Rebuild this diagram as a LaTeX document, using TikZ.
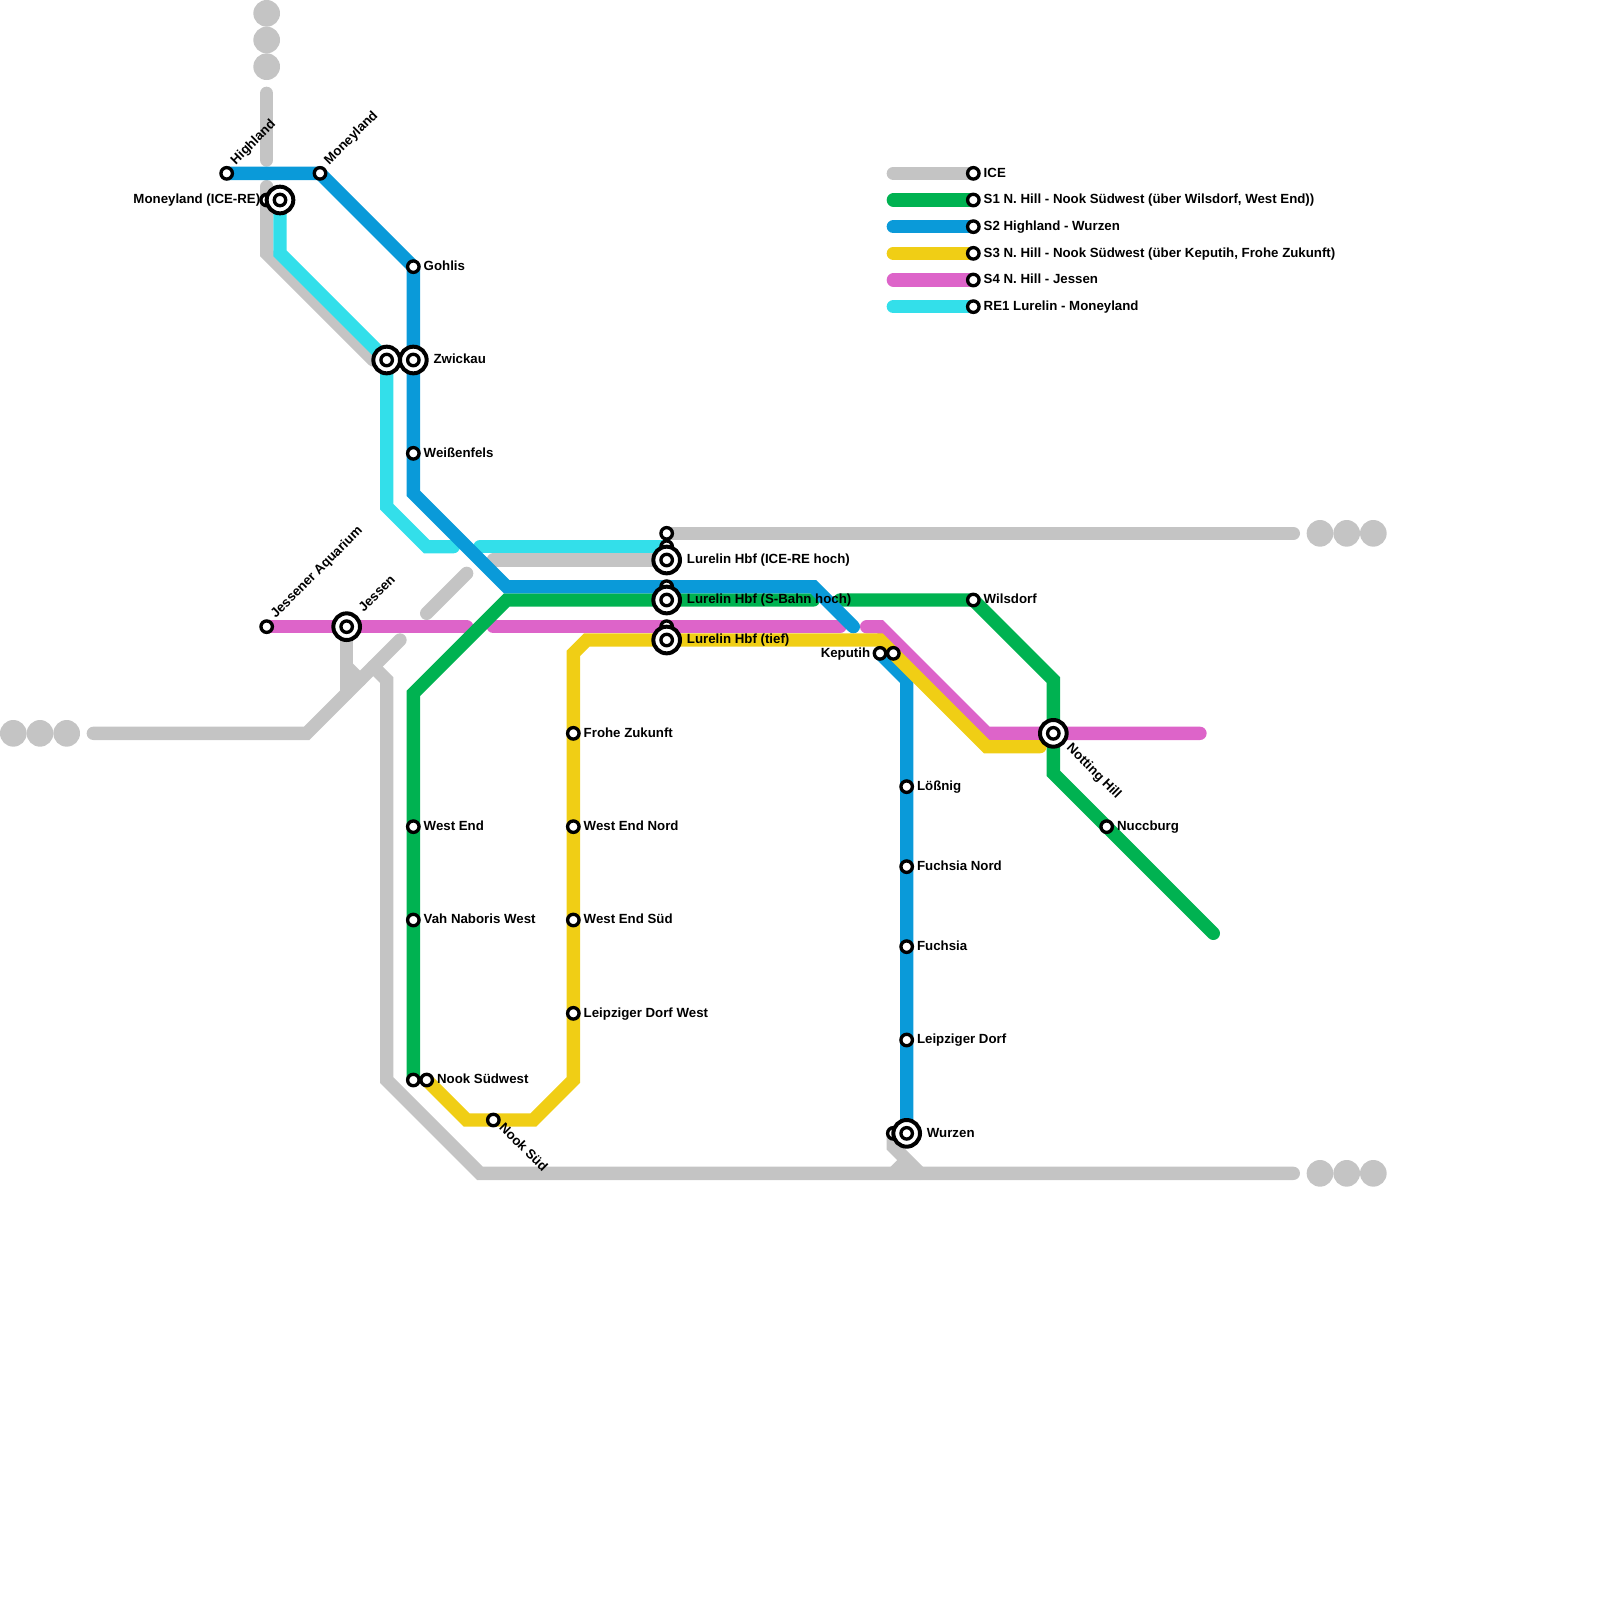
\documentclass[tikz,border=0pt]{standalone}
\usepackage{fontspec}
\setmainfont{Liberation Sans}[BoldFont={Liberation Sans Bold}]
\usetikzlibrary{backgrounds}
\definecolor{cgray}{HTML}{C4C4C4}
\definecolor{cgreen}{HTML}{00B251}
\definecolor{cblue}{HTML}{0A9AD9}
\definecolor{cyell}{HTML}{F0CE15}
\definecolor{cpurp}{HTML}{DD64C9}
\definecolor{ccyan}{HTML}{33DFEA}
\tikzset{
  small/.style={circle,draw=black,fill=white,line width=2.5pt,minimum size=8.6pt,inner sep=0pt},
  big/.style={circle,draw=black,fill=white,line width=3pt,minimum size=20pt,inner sep=0pt},
  endot/.style={circle,fill=cgray,minimum size=20pt,inner sep=0pt},
  lab/.style={anchor=base west,inner sep=0pt,font=\fontsize{9.95pt}{11pt}\selectfont\bfseries},
  labl/.style={lab,anchor=base east},
  route/.style={line width=10pt,line cap=round,line join=miter},
}
\newcommand{\sst}[3]{\node[small] (#1) at (#2,#3) {};}
\newcommand{\bst}[3]{\node[big] (#1o) at (#2,#3) {};\node[small] (#1) at (#2,#3) {};}
\newcommand{\lbs}[2]{\node[lab] (#1-l) at ([shift={(7.6pt,-2.9pt)}]#1.center) {#2};}
\newcommand{\lbb}[2]{\node[lab] (#1-l) at ([shift={(15pt,-2.9pt)}]#1.center) {#2};}
\begin{document}
\begin{tikzpicture}[x=10pt,y=-10pt]
\useasboundingbox (0,0) rectangle (120,120);
% terminal dots
\foreach \n/\x/\y in {da/20/1,db/20/3,dc/20/5,dd/1/55,de/3/55,df/5/55,dg/99/40,dh/101/40,di/103/40,dj/99/88,dk/101/88,dl/103/88}
  \node[endot] (\n) at (\x,\y) {};
% way points
\foreach \n/\x/\y in {
 a1/20/7,a2/20/12,a3/20/14,a4/20/19,a5/28/27,a6/97/40,a7/37/42,a8/32/46,a9/35/43,
 a10/7/55,a11/23/55,a12/30/48,a13/26/50,a14/27/51,a15/28/50,a16/29/51,a17/29/81,a18/36/88,a19/97/88,
 a20/67/86,a21/69/88,a22/67/88,a23/68/87,a24/26/52,
 y1/35/84,y2/40/84,y3/43/81,y4/43/49,y5/44/48,y6/66/48,y7/74/56,y8/78/56,
 p1/35/47,p2/37/47,p3/63/47,p4/65/47,p5/66/47,p6/74/55,p7/90/55,
 c1/21/19,c2/29/38,c3/32/41,c4/34/41,c5/36/41,c6/50/41,
 n1/31/52,n2/38/45,n3/61/45,n4/63/45,n5/79/51,n6/79/58,n7/91/70,
 b1/31/37,b2/38/44,b3/61/44,b4/64/47,b5/68/51,
 k1/67/13,k2/67/15,k3/67/17,k4/67/19,k5/67/21,k6/67/23}
  \coordinate (\n) at (\x,\y);
% stations
\sst{s1}{50}{40}\sst{s2}{50}{41}\sst{s3}{50}{44}\sst{s4}{50}{47}
\sst{mrl}{20}{15}\sst{wuz}{67}{85}
\sst{hig}{17}{13}\sst{mon}{24}{13}\sst{goh}{31}{20}\sst{wei}{31}{34}
\sst{jaq}{20}{47}\sst{we}{31}{62}\sst{vah}{31}{69}\sst{nsw}{31}{81}\sst{nsx}{32}{81}\sst{nsu}{37}{84}
\sst{fro}{43}{55}\sst{wen}{43}{62}\sst{wes}{43}{69}\sst{ldw}{43}{76}
\sst{kea}{66}{49}\sst{keb}{67}{49}
\sst{loe}{68}{59}\sst{fun}{68}{65}\sst{fuc}{68}{71}\sst{ldo}{68}{78}
\sst{wil}{73}{45}\sst{nuc}{83}{62}
\sst{la}{73}{13}\sst{lb}{73}{15}\sst{lc}{73}{17}\sst{ld}{73}{19}\sst{le}{73}{21}\sst{lf}{73}{23}
\bst{mre}{21}{15}\bst{zwa}{29}{27}\bst{zwb}{31}{27}\bst{jes}{26}{47}
\bst{lua}{50}{42}\bst{lub}{50}{45}\bst{luc}{50}{48}\bst{not}{79}{55}\bst{wur}{68}{85}
% routes
\begin{pgfonlayer}{background}
\begin{scope}[route]
\draw[cgray] (a1)--(a2);
\draw[cgray] (a3)--(a4)--(a5);
\draw[cgray] (s1.center)--(a6);
\draw[cgray] (a7)--(lua.center);
\draw[cgray] (a8)--(a9);
\draw[cgray] (a10)--(a11)--(a12);
\draw[cgray] (jes.center)--(a24);
\draw[cgray] (a13)--(a14);
\draw[cgray] (a15)--(a16)--(a17)--(a18)--(a19);
\draw[cgray] (wuz.center)--(a20)--(a21);
\draw[cgray,line cap=butt] (a22)--(a23);
\draw[cpurp] (jaq.center)--(p1);
\draw[cpurp] (p2)--(p3);
\draw[cpurp] (p4)--(p5)--(p6)--(p7);
\draw[ccyan] (mre.center)--(c1)--(zwa.center)--(c2)--(c3)--(c4);
\draw[ccyan] (c5)--(c6);
\draw[cgreen] (nsw.center)--(n1)--(n2)--(n3);
\draw[cgreen] (n4)--(wil.center)--(n5)--(n6)--(n7);
\draw[cblue] (hig.center)--(mon.center)--(goh.center)--(b1)--(b2)--(b3)--(b4);
\draw[cblue] (kea.center)--(b5)--(wur.center);
\draw[cyell] (nsx.center)--(y1)--(y2)--(y3)--(y4)--(y5)--(y6)--(y7)--(y8);
\draw[cgray] (k1)--(la.center);
\draw[cgreen] (k2)--(lb.center);
\draw[cblue] (k3)--(lc.center);
\draw[cyell] (k4)--(ld.center);
\draw[cpurp] (k5)--(le.center);
\draw[ccyan] (k6)--(lf.center);
\end{scope}
\end{pgfonlayer}
% labels
\lbs{goh}{Gohlis}\lbs{wei}{Weißenfels}\lbs{we}{West End}\lbs{vah}{Vah Naboris West}
\lbs{nsx}{Nook Südwest}\lbs{fro}{Frohe Zukunft}\lbs{wen}{West End Nord}\lbs{wes}{West End Süd}
\lbs{ldw}{Leipziger Dorf West}\lbs{loe}{Lößnig}\lbs{fun}{Fuchsia Nord}\lbs{fuc}{Fuchsia}
\lbs{ldo}{Leipziger Dorf}\lbs{wil}{Wilsdorf}\lbs{nuc}{Nuccburg}
\lbs{la}{ICE}\lbs{lb}{S1 N. Hill - Nook Südwest (über Wilsdorf, West End))}
\lbs{lc}{S2 Highland - Wurzen}\lbs{ld}{S3 N. Hill - Nook Südwest (über Keputih, Frohe Zukunft)}
\lbs{le}{S4 N. Hill - Jessen}\lbs{lf}{RE1 Lurelin - Moneyland}
\lbb{zwb}{Zwickau}\lbb{lua}{Lurelin Hbf (ICE-RE hoch)}\lbb{lub}{Lurelin Hbf (S-Bahn hoch)}
\lbb{luc}{Lurelin Hbf (tief)}\lbb{wur}{Wurzen}
\node[labl] (mrl-l) at ([shift={(-4.6pt,-2.9pt)}]mrl.center) {Moneyland (ICE-RE)};
\node[labl] (kea-l) at ([shift={(-7.2pt,-2.9pt)}]kea.center) {Keputih};
\node[lab,rotate=45] (hig-l) at ([shift={(6.8pt,5.9pt)}]hig.center) {Highland};
\node[lab,rotate=45] (mon-l) at ([shift={(6.8pt,5.9pt)}]mon.center) {Moneyland};
\node[lab,rotate=45] (jaq-l) at ([shift={(6.8pt,5.9pt)}]jaq.center) {Jessener Aquarium};
\node[lab,rotate=45] (jes-l) at ([shift={(12.8pt,10.5pt)}]jes.center) {Jessen};
\node[lab,rotate=-45] (nsu-l) at ([shift={(3.8pt,-6.3pt)}]nsu.center) {Nook Süd};
\node[lab,rotate=-45] (not-l) at ([shift={(9.5pt,-11.6pt)}]not.center) {Notting Hill};
\end{tikzpicture}
\end{document}
